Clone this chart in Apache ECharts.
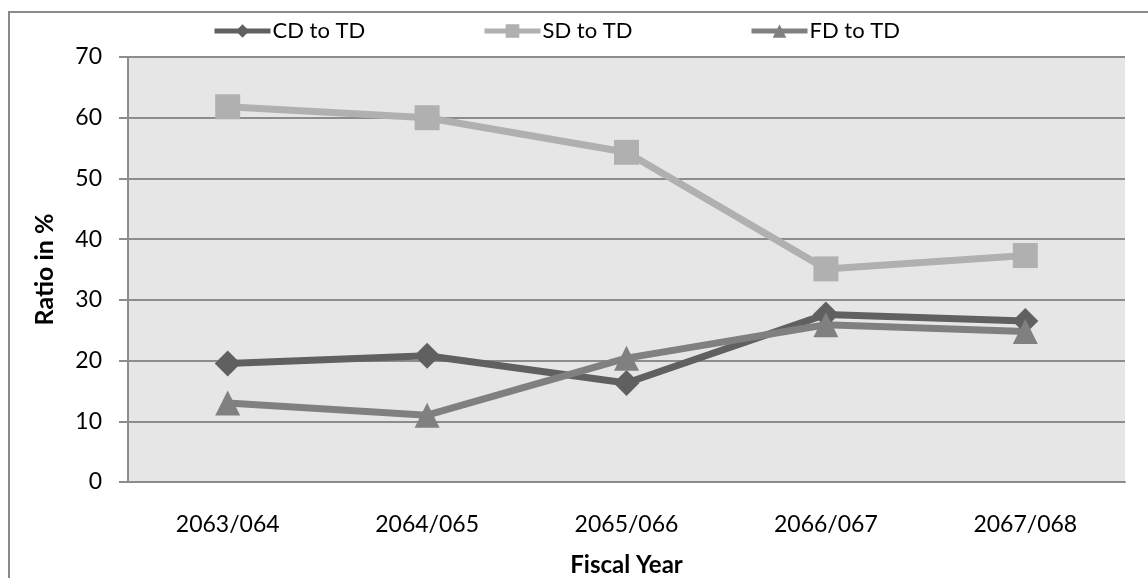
<!DOCTYPE html>
<html>
<head>
<meta charset="utf-8">
<script src="https://cdn.jsdelivr.net/npm/echarts@6/dist/echarts.min.js"></script>
<style>
  html, body { margin: 0; padding: 0; background: #fff; }
  #chart { width: 1148px; height: 578px; }
</style>
</head>
<body>
<div id="chart"></div>
<script>
// Fiscal years on the category axis
const years = ['2063/064', '2064/065', '2065/066', '2066/067', '2067/068'];
// Deposit composition ratios (% of total deposits)
const cdToTd = [19.5, 20.8, 16.3, 27.6, 26.5];
const sdToTd = [61.8, 60.0, 54.3, 35.1, 37.3];
const fdToTd = [13.0, 11.0, 20.4, 25.9, 24.8];
// Y axis range and step
const yMin = 0, yMax = 70, yStep = 10;

const FONT = 'Lato, "Open Sans", sans-serif';

const chart = echarts.init(document.getElementById('chart'), null, { renderer: 'canvas' });

function lineSeries(name, data, color, symbol, size) {
  return {
    name: name,
    type: 'line',
    data: data,
    symbol: symbol,
    symbolSize: size,
    lineStyle: { color: color, width: 7 },
    itemStyle: { color: color },
    emphasis: { disabled: true },
    animation: false
  };
}

function legendAt(name, left) {
  return {
    data: [name],
    left: left,
    top: 20,
    padding: 0,
    itemWidth: 56,
    itemHeight: 17,
    itemGap: 0,
    lineStyle: { width: 5 },
    textStyle: { fontFamily: FONT, fontSize: 22, color: '#000', padding: [0, 0, 0, -3] }
  };
}

chart.setOption({
  backgroundColor: '#ffffff',
  animation: false,
  graphic: [{
    type: 'rect',
    shape: { x: 9, y: 12, width: 1160, height: 600 },
    style: { fill: 'none', stroke: '#8a8a8a', lineWidth: 2 },
    silent: true
  }],
  legend: [
    legendAt('CD to TD', 212),
    legendAt('SD to TD', 482),
    legendAt('FD to TD', 749)
  ],
  grid: {
    left: 128, right: 23, top: 57, bottom: 96,
    outerBoundsMode: 'none',
    containLabel: false,
    show: true, backgroundColor: '#e6e6e6', borderWidth: 0
  },
  xAxis: {
    type: 'category',
    data: years,
    boundaryGap: true,
    name: 'Fiscal Year',
    nameLocation: 'middle',
    nameGap: 71,
    nameTextStyle: { fontFamily: FONT, fontSize: 24, fontWeight: 'bold', color: '#000' },
    axisLine: { lineStyle: { color: '#8c8c8c', width: 2 } },
    axisTick: { show: false },
    axisLabel: { fontFamily: FONT, fontSize: 23, color: '#000', margin: 31 }
  },
  yAxis: {
    type: 'value',
    min: yMin, max: yMax, interval: yStep,
    name: 'Ratio in %',
    nameLocation: 'middle',
    nameGap: 71,
    nameRotate: 90,
    nameTextStyle: { fontFamily: FONT, fontSize: 25, fontWeight: 'bold', color: '#000' },
    axisLine: { show: true, lineStyle: { color: '#8c8c8c', width: 2 } },
    axisTick: { show: true, length: 9, lineStyle: { color: '#8c8c8c', width: 2 } },
    axisLabel: { fontFamily: FONT, fontSize: 23, color: '#000', margin: 26 },
    splitLine: { lineStyle: { color: '#8c8c8c', width: 2 } }
  },
  series: [
    lineSeries('CD to TD', cdToTd, '#606060', 'diamond', 26),
    lineSeries('SD to TD', sdToTd, '#b0b0b0', 'rect', 25),
    lineSeries('FD to TD', fdToTd, '#808080', 'triangle', 25)
  ]
});
</script>
</body>
</html>
